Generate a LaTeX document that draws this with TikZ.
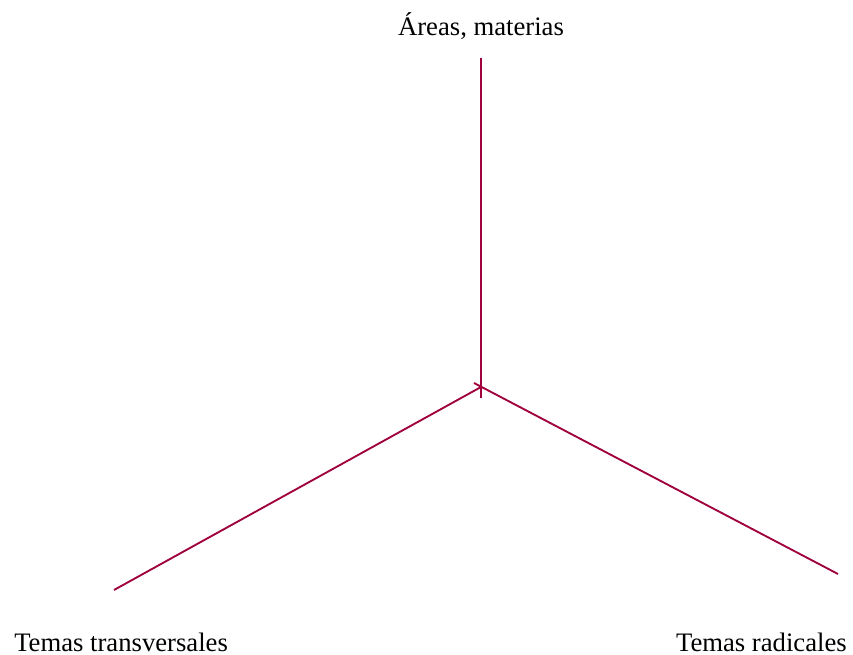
\documentclass[tikz,border=0pt]{standalone}
\usepackage{fontspec}
\setmainfont{Liberation Serif}
\usepackage{tikz}
\definecolor{axisred}{HTML}{A0003C}

\begin{document}
\begin{tikzpicture}[
    x=0.75pt, y=-0.75pt,
    axislabel/.style={inner sep=0pt, font=\fontsize{20}{24}\selectfont},
    axisline/.style={axisred, line width=1.4pt}
  ]
    \useasboundingbox (0,0) rectangle (853,655);
    % labels
    \node[axislabel, anchor=base] (areas) at (481,36) {Áreas, materias};
    \node[axislabel, anchor=base west] (transv) at (14,651) {Temas transversales};
    \node[axislabel, anchor=base east] (radic) at (847,651) {Temas radicales};
    % axis ends
    \coordinate (topend) at (481,58);
    \coordinate (topfoot) at (481,398);
    \coordinate (leftend) at (114,590);
    \coordinate (leftfoot) at (481,387);
    \coordinate (rightend) at (838,574);
    \coordinate (rightfoot) at (474,383);
    \draw[axisline] (topend) -- (topfoot);
    \draw[axisline] (leftend) -- (leftfoot);
    \draw[axisline] (rightfoot) -- (rightend);
  \end{tikzpicture}
\end{document}
